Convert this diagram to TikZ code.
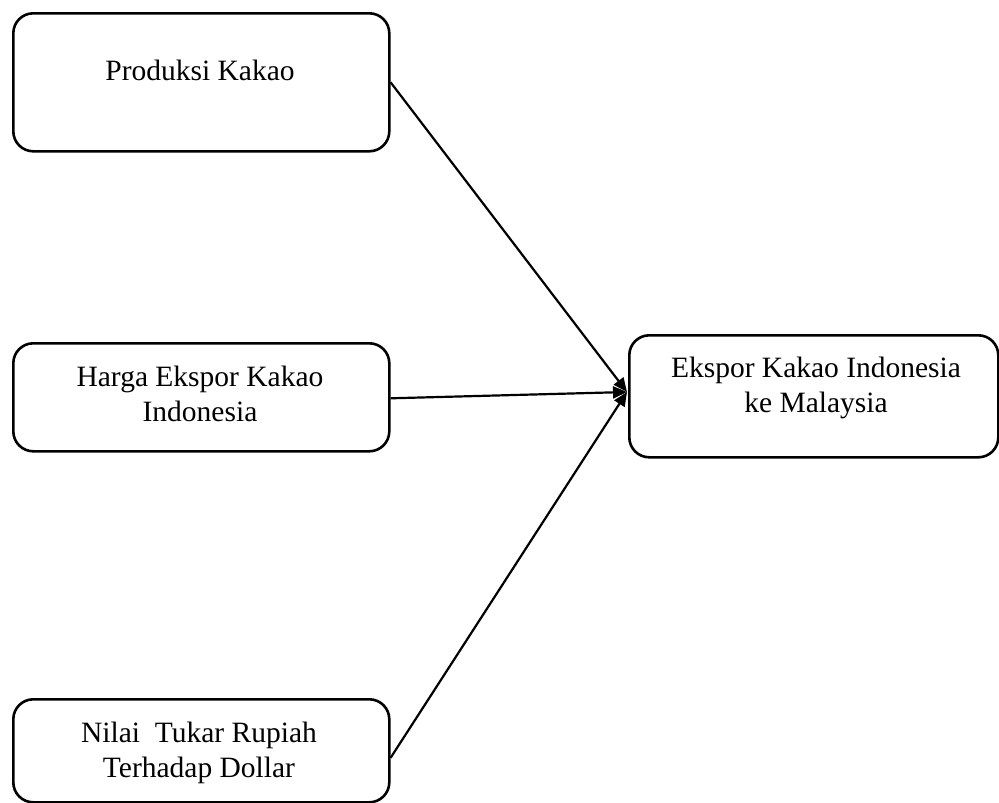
\documentclass[tikz,border=0pt]{standalone}
\usepackage{fontspec}
\setmainfont{Liberation Serif}
\usetikzlibrary{arrows.meta}
\begin{document}
\begin{tikzpicture}[x=1pt,y=1pt,
  box/.style={draw=black, line width=2.6pt, rounded corners=20pt, anchor=north west, inner sep=0pt},
  lbl/.style={font=\fontsize{29.5}{35}\selectfont, align=center, anchor=base, inner sep=0pt},
  link/.style={line width=2.2pt, -{Triangle[length=14pt,width=12pt]}}]
\useasboundingbox (0,0) rectangle (999,-803);
\node[box, minimum width=376pt, minimum height=138pt] (prod) at (12,-12) {};
\node[box, minimum width=376pt, minimum height=108pt] (harga) at (12,-342) {};
\node[box, minimum width=376pt, minimum height=103pt] (nilai) at (12,-698) {};
\node[box, minimum width=369pt, minimum height=122pt] (eks) at (628,-334) {};
\node[lbl] (tprod) at (200,-80) {Produksi Kakao};
\node[lbl] (tharga) at (200,-421) {Harga Ekspor Kakao\\Indonesia};
\node[lbl] (tnilai) at (199,-777) {Nilai\ \ Tukar Rupiah\\Terhadap Dollar};
\node[lbl] (teks) at (816,-412) {Ekspor Kakao Indonesia\\ke Malaysia};
\coordinate (tip) at (627,-392);
\draw[link] (prod.east) -- (tip);
\draw[link] ([yshift=-1pt]harga.east) -- (tip);
\draw[link] ([yshift=-7pt]nilai.east) -- (tip);
\end{tikzpicture}
\end{document}
